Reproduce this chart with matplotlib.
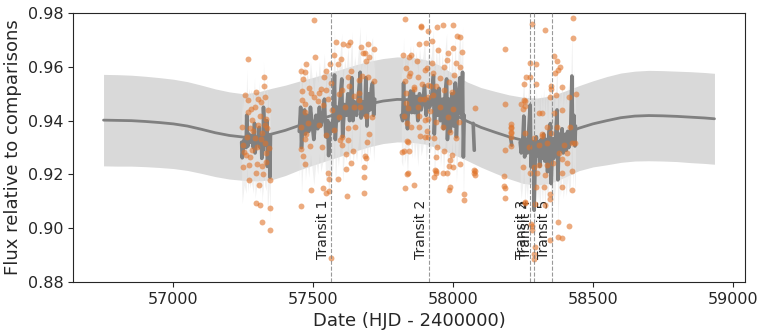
import matplotlib
import matplotlib.pyplot as plt
import seaborn as sns
import numpy as np

sns.set_style('ticks')
matplotlib.rcParams['font.family'] = 'DejaVu Sans'

# smooth GP prediction (knots)
gp_t = [56750, 56800, 56850, 56900, 56950, 57000, 57050, 57100, 57150, 57200,
        57250, 57300, 57350, 57400, 57450, 57500, 57550, 57600, 57650, 57700,
        57750, 57800, 57850, 57900, 57950, 58000, 58050, 58100, 58150, 58200,
        58250, 58300, 58350, 58400, 58450, 58500, 58550, 58600, 58650, 58700,
        58750, 58800, 58850, 58900, 58935]
gp_mu = [0.9402, 0.9401, 0.9400, 0.9397, 0.9393, 0.9388, 0.9380, 0.9368, 0.9355, 0.9345,
         0.9339, 0.9341, 0.9350, 0.9364, 0.9382, 0.9398, 0.9414, 0.9430, 0.9447, 0.9462,
         0.9473, 0.9479, 0.9478, 0.9470, 0.9452, 0.9425, 0.9398, 0.9375, 0.9357, 0.9340,
         0.9327, 0.9322, 0.9330, 0.9350, 0.9372, 0.9388, 0.9400, 0.9411, 0.9417, 0.9419,
         0.9418, 0.9416, 0.9413, 0.9410, 0.9407]
gp_sd = [0.0170, 0.0170, 0.0169, 0.0168, 0.0167, 0.0166, 0.0165, 0.0164, 0.0163, 0.0162,
         0.0161, 0.0165, 0.0170, 0.0168, 0.0165, 0.0163, 0.0162, 0.0161, 0.0160, 0.0159,
         0.0158, 0.0158, 0.0158, 0.0157, 0.0155, 0.0150, 0.0146, 0.0148, 0.0152, 0.0156,
         0.0160, 0.0162, 0.0162, 0.0160, 0.0158, 0.0160, 0.0164, 0.0166, 0.0167, 0.0168,
         0.0168, 0.0168, 0.0169, 0.0169, 0.0169]

# model evaluated at observation times, one list per season
model_s1 = [(57244, 0.9320), (57246, 0.9262), (57250, 0.9300), (57253, 0.9330), (57260, 0.9300),
            (57262, 0.9420), (57266, 0.9305), (57270, 0.9350), (57274, 0.9320), (57278, 0.9345),
            (57286, 0.9300), (57290, 0.9390), (57292, 0.9280), (57298, 0.9330), (57305, 0.9320),
            (57307, 0.9375), (57310, 0.9300), (57314, 0.9340), (57316, 0.9260), (57318, 0.9320),
            (57321, 0.9290), (57322, 0.9450), (57326, 0.9330), (57332, 0.9310), (57334, 0.9400),
            (57336, 0.9230), (57343, 0.9330), (57345, 0.9190), (57347, 0.9345)]
model_s2 = [(57450, 0.9360), (57455, 0.9450), (57458, 0.9300), (57463, 0.9400), (57469, 0.9440),
            (57472, 0.9350), (57478, 0.9420), (57484, 0.9360), (57490, 0.9450), (57496, 0.9390),
            (57502, 0.9330), (57510, 0.9420), (57516, 0.9370), (57522, 0.9450), (57527, 0.9380),
            (57535, 0.9420), (57540, 0.9480), (57545, 0.9340), (57552, 0.9400), (57555, 0.9270),
            (57560, 0.9390), (57566, 0.9360), (57572, 0.9420), (57576, 0.9570), (57579, 0.9330),
            (57585, 0.9450), (57590, 0.9400), (57596, 0.9480), (57602, 0.9555), (57605, 0.9340),
            (57612, 0.9460), (57618, 0.9420), (57624, 0.9500), (57630, 0.9400), (57638, 0.9560),
            (57642, 0.9400), (57648, 0.9470), (57655, 0.9420), (57662, 0.9500), (57668, 0.9580),
            (57671, 0.9410), (57678, 0.9470), (57684, 0.9420), (57688, 0.9560), (57692, 0.9380),
            (57698, 0.9500), (57703, 0.9440), (57708, 0.9520), (57712, 0.9540), (57716, 0.9420),
            (57720, 0.9480)]
model_s3 = [(57815, 0.9420), (57820, 0.9400), (57823, 0.9540), (57826, 0.9410), (57832, 0.9450),
            (57837, 0.9370), (57842, 0.9470), (57848, 0.9510), (57852, 0.9430), (57858, 0.9510),
            (57862, 0.9430), (57868, 0.9490), (57874, 0.9400), (57880, 0.9500), (57886, 0.9440),
            (57892, 0.9470), (57898, 0.9530), (57904, 0.9420), (57910, 0.9480), (57916, 0.9450),
            (57922, 0.9470), (57930, 0.9567), (57933, 0.9350), (57940, 0.9510), (57945, 0.9420),
            (57950, 0.9520), (57955, 0.9400), (57962, 0.9480), (57966, 0.9370), (57972, 0.9500),
            (57977, 0.9555), (57980, 0.9330), (57986, 0.9480), (57990, 0.9360), (57996, 0.9500),
            (58002, 0.9380), (58008, 0.9540), (58012, 0.9340), (58018, 0.9480), (58025, 0.9560),
            (58030, 0.9420), (58034, 0.9580), (58037, 0.9265), (58040, 0.9420)]
model_s3b = [(58072, 0.9390), (58076, 0.9290)]
model_s3c = [(58206, 0.9335), (58210, 0.9309)]
model_s4 = [(58240, 0.9320), (58244, 0.9280), (58250, 0.9340), (58253, 0.9417), (58256, 0.9265),
            (58262, 0.9330), (58266, 0.9280), (58270, 0.9350), (58276, 0.9458), (58279, 0.9228),
            (58284, 0.9300), (58288, 0.9316), (58290, 0.9067), (58294, 0.9260), (58298, 0.9340),
            (58302, 0.9270), (58306, 0.9320), (58310, 0.9230), (58315, 0.9330), (58320, 0.9260),
            (58324, 0.9350), (58328, 0.9250), (58334, 0.9330), (58338, 0.9210), (58343, 0.9360),
            (58348, 0.9389), (58351, 0.9166), (58356, 0.9330), (58360, 0.9260), (58366, 0.9320),
            (58372, 0.9440), (58375, 0.9180), (58380, 0.9350), (58384, 0.9290), (58390, 0.9370),
            (58394, 0.9280), (58400, 0.9340), (58405, 0.9290), (58410, 0.9360), (58414, 0.9300),
            (58420, 0.9330), (58425, 0.9566), (58428, 0.9316), (58432, 0.9420), (58436, 0.9306),
            (58438, 0.9380)]

# observed fluxes, one list per season
obs_s1 = [(57266, 0.9628), (57257, 0.9496), (57323, 0.9562), (57323, 0.9529), (57295, 0.9508),
          (57302, 0.9480), (57314, 0.9471), (57326, 0.9487), (57278, 0.9443), (57292, 0.9452),
          (57268, 0.9433), (57303, 0.9384), (57332, 0.9405), (57309, 0.9417), (57275, 0.9372),
          (57315, 0.9353), (57290, 0.9334), (57328, 0.9316), (57330, 0.9281), (57252, 0.9284),
          (57259, 0.9272), (57275, 0.9266), (57271, 0.9235), (57299, 0.9239), (57318, 0.9231),
          (57249, 0.9226), (57320, 0.9201), (57296, 0.9206), (57271, 0.9179), (57347, 0.9179),
          (57306, 0.9160), (57296, 0.9094), (57310, 0.9086), (57347, 0.9077), (57318, 0.9022),
          (57347, 0.8993), (57266, 0.9477), (57244, 0.9378), (57282, 0.9403), (57299, 0.9303),
          (57280, 0.9291), (57326, 0.9384), (57338, 0.9440), (57336, 0.9372), (57263, 0.9341),
          (57330, 0.9246), (57250, 0.9310), (57285, 0.9360), (57312, 0.9330), (57340, 0.9300)]
obs_s2 = [(57502, 0.9775), (57581, 0.9692), (57608, 0.9686), (57632, 0.9692), (57623, 0.9682),
          (57695, 0.9686), (57671, 0.9673), (57716, 0.9666), (57684, 0.9653), (57677, 0.9653),
          (57505, 0.9638), (57576, 0.9645), (57600, 0.9629), (57700, 0.9636), (57474, 0.9611),
          (57588, 0.9611), (57561, 0.9611), (57688, 0.9620), (57457, 0.9586), (57469, 0.9582),
          (57545, 0.9586), (57636, 0.9586), (57623, 0.9564), (57540, 0.9562), (57674, 0.9566),
          (57665, 0.9551), (57462, 0.9554), (57717, 0.9549), (57564, 0.9541), (57628, 0.9529),
          (57695, 0.9564), (57486, 0.9521), (57528, 0.9517), (57545, 0.9514), (57604, 0.9514),
          (57459, 0.9512), (57521, 0.9502), (57492, 0.9502), (57662, 0.9504), (57591, 0.9499),
          (57645, 0.9492), (57459, 0.9477), (57501, 0.9487), (57552, 0.9480), (57662, 0.9477),
          (57516, 0.9474), (57471, 0.9462), (57536, 0.9458), (57612, 0.9452), (57644, 0.9450),
          (57668, 0.9452), (57566, 0.9440), (57469, 0.9433), (57688, 0.9417), (57591, 0.9413),
          (57710, 0.9415), (57483, 0.9390), (57457, 0.9375), (57650, 0.9378), (57623, 0.9372),
          (57519, 0.9384), (57576, 0.9365), (57474, 0.9350), (57545, 0.9347), (57698, 0.9350),
          (57602, 0.9341), (57469, 0.9331), (57457, 0.9293), (57489, 0.9306), (57531, 0.9303),
          (57596, 0.9328), (57626, 0.9328), (57602, 0.9309), (57641, 0.9288), (57616, 0.9276),
          (57691, 0.9319), (57462, 0.9268), (57469, 0.9239), (57636, 0.9241), (57684, 0.9268),
          (57688, 0.9260), (57616, 0.9219), (57680, 0.9226), (57552, 0.9206), (57588, 0.9182),
          (57681, 0.9189), (57555, 0.9182), (57492, 0.9144), (57536, 0.9148), (57545, 0.9132),
          (57557, 0.9139), (57681, 0.9132), (57620, 0.9119), (57457, 0.9082), (57562, 0.8889)]
obs_s3 = [(57827, 0.9778), (57886, 0.9753), (57912, 0.9735), (57879, 0.9686), (57903, 0.9690),
          (57820, 0.9645), (57844, 0.9638), (57871, 0.9623), (57831, 0.9595), (57906, 0.9595),
          (57876, 0.9564), (57844, 0.9566), (57827, 0.9549), (57862, 0.9524), (57888, 0.9537),
          (57919, 0.9529), (57831, 0.9502), (57882, 0.9480), (57909, 0.9487), (57840, 0.9446),
          (57879, 0.9417), (57912, 0.9405), (57900, 0.9340), (57850, 0.9375), (57817, 0.9284),
          (57840, 0.9322), (57838, 0.9204), (57829, 0.9148), (57860, 0.9160), (57912, 0.9338),
          (57939, 0.9266), (57939, 0.9214), (57884, 0.9748), (57944, 0.9748), (57963, 0.9756),
          (57999, 0.9756), (58014, 0.9713), (58026, 0.9711), (57925, 0.9698), (57999, 0.9670),
          (58032, 0.9657), (57981, 0.9651), (57947, 0.9661), (57849, 0.9645), (57978, 0.9626),
          (58012, 0.9616), (57925, 0.9616), (57968, 0.9601), (58026, 0.9599), (57899, 0.9589),
          (57847, 0.9576), (57930, 0.9576), (58002, 0.9570), (57952, 0.9558), (57984, 0.9545),
          (57909, 0.9533), (57940, 0.9529), (57859, 0.9517), (57966, 0.9514), (57996, 0.9508),
          (57928, 0.9496), (57895, 0.9480), (57833, 0.9465), (57873, 0.9452), (57954, 0.9452),
          (57999, 0.9442), (57918, 0.9437), (58080, 0.9446), (57823, 0.9417), (57981, 0.9415),
          (57899, 0.9403), (57940, 0.9396), (57834, 0.9390), (58020, 0.9396), (57880, 0.9375),
          (57963, 0.9375), (57906, 0.9363), (57990, 0.9359), (57882, 0.9343), (57932, 0.9334),
          (58012, 0.9334), (57837, 0.9325), (57823, 0.9288), (57844, 0.9288), (57944, 0.9303),
          (57966, 0.9288), (57996, 0.9272), (57988, 0.9253), (58026, 0.9239), (57999, 0.9228),
          (57984, 0.9231), (57936, 0.9216), (58074, 0.9216), (58076, 0.9204), (57940, 0.9204),
          (57963, 0.9204), (57978, 0.9206), (57932, 0.9191), (57837, 0.9201), (57988, 0.9154),
          (57984, 0.9142), (58038, 0.9127), (58038, 0.9104), (58181, 0.9194), (58181, 0.9157),
          (58185, 0.9668), (58077, 0.9212), (58077, 0.9198), (58185, 0.9462), (58185, 0.9291),
          (58185, 0.9148), (58185, 0.9114), (58208, 0.9387), (58208, 0.9372), (58208, 0.9353)]
obs_s4 = [(58282, 0.9760), (58330, 0.9738), (58276, 0.9614), (58296, 0.9611), (58261, 0.9562),
          (58274, 0.9562), (58252, 0.9537), (58296, 0.9537), (58252, 0.9477), (58258, 0.9474),
          (58249, 0.9442), (58258, 0.9454), (58308, 0.9430), (58361, 0.9641), (58372, 0.9620),
          (58376, 0.9589), (58381, 0.9599), (58363, 0.9579), (58351, 0.9529), (58351, 0.9517),
          (58348, 0.9489), (58390, 0.9524), (58369, 0.9496), (58429, 0.9781), (58429, 0.9709),
          (58414, 0.9487), (58388, 0.9440), (58360, 0.9430), (58438, 0.9499), (58318, 0.9427),
          (58336, 0.9378), (58318, 0.9350), (58351, 0.9353), (58372, 0.9375), (58420, 0.9375),
          (58206, 0.9378), (58206, 0.9359), (58206, 0.9341), (58208, 0.9306), (58256, 0.9353),
          (58271, 0.9303), (58288, 0.9334), (58306, 0.9309), (58318, 0.9343), (58336, 0.9318),
          (58396, 0.9309), (58426, 0.9316), (58435, 0.9318), (58378, 0.9281), (58408, 0.9281),
          (58390, 0.9256), (58249, 0.9228), (58288, 0.9228), (58306, 0.9235), (58336, 0.9235),
          (58356, 0.9241), (58408, 0.9241), (58276, 0.9204), (58300, 0.9206), (58330, 0.9198),
          (58390, 0.9206), (58426, 0.9214), (58297, 0.9154), (58325, 0.9154), (58390, 0.9154),
          (58426, 0.9144), (58256, 0.9098), (58294, 0.9092), (58330, 0.9086), (58345, 0.9129),
          (58348, 0.9107), (58376, 0.9024), (58414, 0.9008), (58376, 0.8968), (58390, 0.8962),
          (58282, 0.9008), (58282, 0.8993), (58294, 0.8930), (58291, 0.8906), (58291, 0.8887),
          (58345, 0.8958), (58244, 0.9462), (58256, 0.9094), (58280, 0.9015)]

transit_t = [57563, 57915, 58277, 58291, 58355]
transit_labels = ['Transit 1', 'Transit 2', 'Transit 3', 'Transit 4', 'Transit 5']

fig = plt.figure(figsize=(7.66, 3.35), dpi=100)
ax = fig.add_axes([0.0953, 0.158, 0.8773, 0.803])

gp_t = np.array(gp_t)
gp_mu = np.array(gp_mu)
gp_sd = np.array(gp_sd)
ax.fill_between(gp_t, gp_mu - gp_sd, gp_mu + gp_sd, color='#d9d9d9', lw=0, zorder=1)

# jagged band at the observation times
for seg in [model_s1, model_s2, model_s3, model_s4]:
    t, f = np.array(seg).T
    ax.fill_between(t, f - 0.017, f + 0.017, color='#e6e6e6', alpha=0.6, lw=0, zorder=1.5)

ax.plot(gp_t, gp_mu, color='grey', lw=2, zorder=2)

for seg in [model_s1, model_s2, model_s3, model_s3b, model_s3c, model_s4]:
    t, f = np.array(seg).T
    ax.plot(t, f, color='grey', lw=2.6, zorder=3)

for pts in [obs_s1, obs_s2, obs_s3, obs_s4]:
    t, f = np.array(pts).T
    ax.scatter(t, f, s=18, color='#e0742a', alpha=0.6, lw=0, zorder=4)

for t, lab in zip(transit_t, transit_labels):
    ax.axvline(t, color='grey', ls='--', lw=0.8, alpha=0.8, zorder=5)
    ax.text(t - 4, 0.8885, lab, rotation=90, ha='right', va='bottom', fontsize=10, color='#262626')

ax.set_ylim(0.88, 0.98)
ax.set_xticks([57000, 57500, 58000, 58500, 59000])
ax.set_yticks([0.88, 0.90, 0.92, 0.94, 0.96, 0.98])
ax.tick_params(labelsize=11.5)
ax.set_xlabel('Date (HJD - 2400000)', fontsize=13)
ax.set_ylabel('Flux relative to comparisons', fontsize=13)

plt.savefig('out.png', dpi=100)
